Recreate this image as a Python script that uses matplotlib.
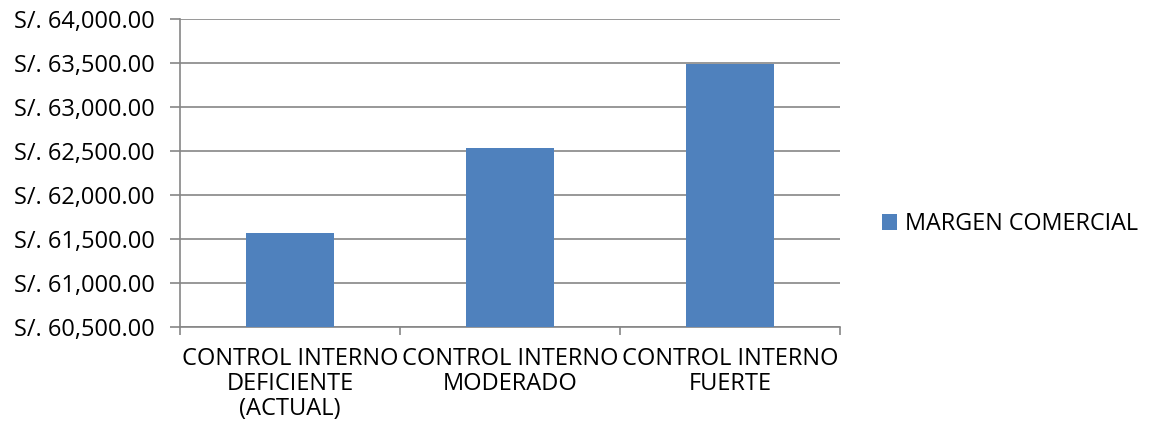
import matplotlib
matplotlib.use("Agg")
import matplotlib.pyplot as plt
from matplotlib.ticker import FuncFormatter, MultipleLocator

categories = ["CONTROL INTERNO\nDEFICIENTE\n(ACTUAL)", "CONTROL INTERNO\nMODERADO", "CONTROL INTERNO\nFUERTE"]
margen = [61568, 62534, 63489]
series_name = "MARGEN COMERCIAL"

plt.rcParams['font.family'] = ['Open Sans', 'DejaVu Sans']
fig = plt.figure(figsize=(11.53, 4.43), dpi=100)
ax = fig.add_axes([180/1153, 1-327.3/443, 660/1153, (327.3-19)/443])

x = list(range(len(categories)))
ax.bar(x, [m - 60500 for m in margen], bottom=60500, width=0.4, color="#4F81BD", label=series_name, zorder=3)

ax.set_xlim(-0.5, len(categories) - 0.5)
ax.set_ylim(60500, 64000)
ax.yaxis.set_major_locator(MultipleLocator(500))
ax.yaxis.set_major_formatter(FuncFormatter(lambda v, p: "S/. {:,.2f}".format(v)))
ax.grid(axis="y", color="#868686", linewidth=1.2, zorder=0)

ax.set_xticks([i - 0.5 for i in range(len(categories) + 1)], minor=False)
ax.set_xticklabels([])
ax.set_xticks(x, minor=True)
ax.set_xticklabels(categories, minor=True, fontsize=17, linespacing=1.05)
ax.tick_params(axis="x", which="minor", length=0, pad=14)
ax.tick_params(axis="x", which="major", length=6, color="#868686", width=1.2)
ax.tick_params(axis="y", length=7, color="#868686", width=1.2, labelsize=17, pad=11)

for s in ["top", "right"]:
    ax.spines[s].set_visible(False)
for s in ["left", "bottom"]:
    ax.spines[s].set_color("#868686")
    ax.spines[s].set_linewidth(1.2)

leg = fig.legend(loc="center left", bbox_to_anchor=(882/1153, 1-224/443), frameon=False,
                 fontsize=16.8, handlelength=0.65, handleheight=0.65, handletextpad=0.35,
                 borderaxespad=0, borderpad=0)

fig.savefig("out.png", dpi=100)
